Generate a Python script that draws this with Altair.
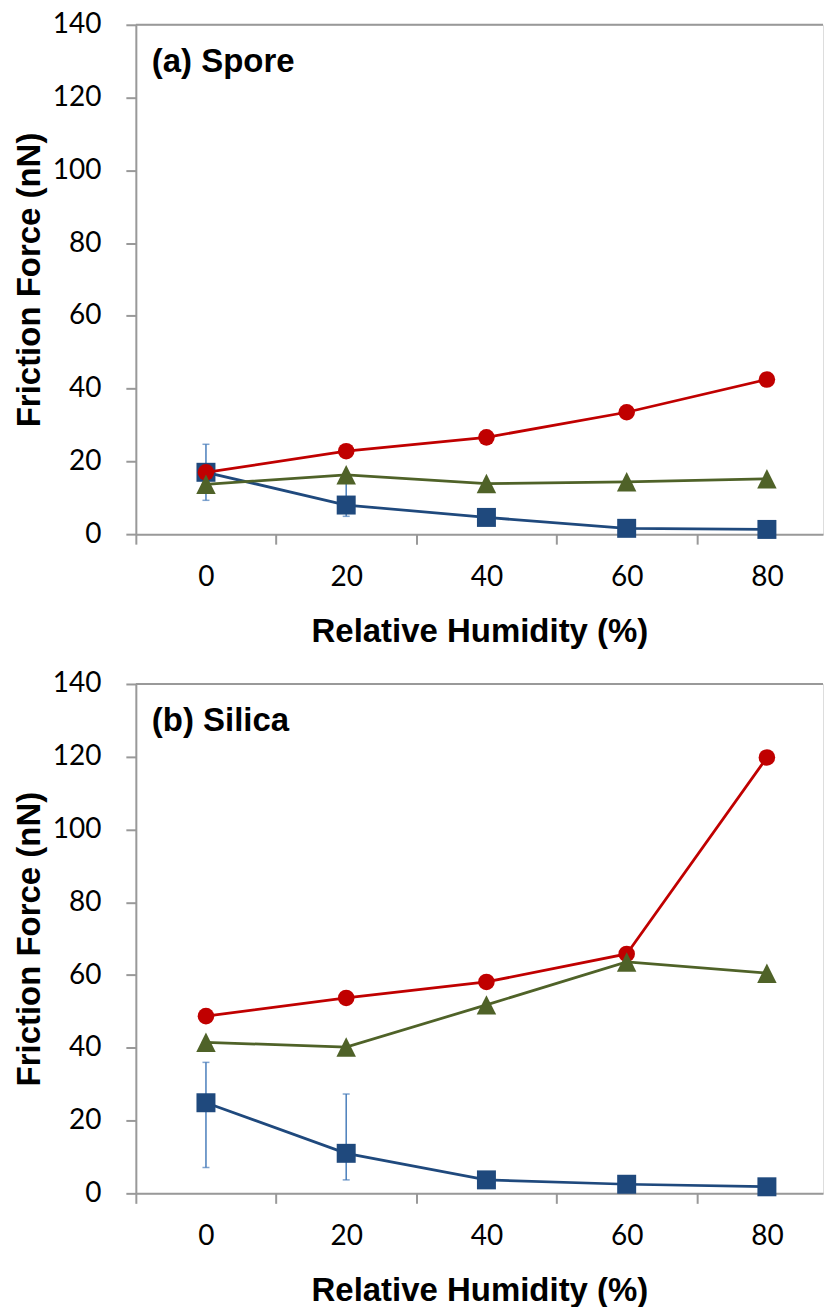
import altair as alt
import pandas as pd

# ---- data ----
HUMIDITY = [0, 20, 40, 60, 80]
X_BOUNDS = [-10, 10, 30, 50, 70]          # category boundaries (tick marks)
Y_TICKS = [0, 20, 40, 60, 80, 100, 120, 140]

SPORE_RED = [17.0, 22.8, 26.6, 33.5, 42.5]
SPORE_GREEN = [13.7, 16.3, 13.9, 14.4, 15.2]
SPORE_BLUE = [17.0, 8.0, 4.6, 1.6, 1.3]
SPORE_ERR_X = [0, 20]
SPORE_ERR_HI = [24.7, 14.5]
SPORE_ERR_LO = [9.3, 4.9]

SILICA_RED = [48.7, 53.7, 58.1, 65.8, 119.8]
SILICA_GREEN = [41.5, 40.2, 51.8, 63.6, 60.5]
SILICA_BLUE = [24.9, 11.0, 3.7, 2.5, 1.8]
SILICA_ERR_X = [0, 20]
SILICA_ERR_HI = [36.0, 27.3]
SILICA_ERR_LO = [7.1, 3.7]

RED = "#C00000"
GREEN = "#4F6228"
BLUE = "#1F497D"
ERR = "#4A7EBB"
AX = "#999999"

W = 688
H = 510
XDOM = [-10, 88]

xscale = alt.Scale(domain=XDOM, nice=False, zero=False)
yscale = alt.Scale(domain=[0, 140], nice=False)

xaxis = alt.Axis(
    values=X_BOUNDS, labelExpr="'' + (datum.value + 10)",
    labelOffset=W / (XDOM[1] - XDOM[0]) * 10,
    title="Relative Humidity (%)", grid=False,
    tickSize=10, tickColor=AX, tickWidth=2, domainColor=AX, domainWidth=2,
    labelFont="Lato", labelFontSize=28, labelColor="black", labelPadding=19,
    labelFlush=False, labelOverlap=False, labelBound=False,
    titleFont="Liberation Sans", titleFontSize=33, titleFontWeight="bold",
    titleColor="black", titlePadding=24,
)
yaxis = alt.Axis(
    values=Y_TICKS, title="Friction Force (nN)", grid=False,
    tickSize=10, tickColor=AX, tickWidth=2, domainColor=AX, domainWidth=2,
    labelFont="Lato", labelFontSize=28, labelColor="black", labelPadding=25,
    labelFlush=False, labelOverlap=False,
    titleFont="Liberation Sans", titleFontSize=33, titleFontWeight="bold",
    titleColor="black", titlePadding=6,
)

TRIANGLE = "M0,-1L1,1L-1,1Z"


def X(field):
    return alt.X(field, type="quantitative", scale=xscale, axis=xaxis)


def Y(field):
    return alt.Y(field, type="quantitative", scale=yscale, axis=yaxis)


def series(ys, color, shape, size):
    df = pd.DataFrame({"h": HUMIDITY, "f": ys})
    base = alt.Chart(df).encode(x=X("h"), y=Y("f"))
    line = base.mark_line(color=color, strokeWidth=2.75)
    pts = base.mark_point(shape=shape, filled=True, color=color, opacity=1, size=size)
    return [line, pts]


def panel(label, red, green, blue, ex, ehi, elo):
    top = alt.Chart(pd.DataFrame({"f": [Y_TICKS[-1]]})).mark_rule(
        color=AX, strokeWidth=2
    ).encode(y=Y("f"))
    edf = pd.DataFrame({"h": ex, "hi": ehi, "lo": elo})
    ebar = alt.Chart(edf).mark_rule(color=ERR, strokeWidth=1.5).encode(
        x=X("h"), y=Y("hi"), y2="lo"
    )
    cap_hi = alt.Chart(edf).mark_tick(
        color=ERR, orient="horizontal", size=7, thickness=1.5
    ).encode(x=X("h"), y=Y("hi"))
    cap_lo = alt.Chart(edf).mark_tick(
        color=ERR, orient="horizontal", size=7, thickness=1.5
    ).encode(x=X("h"), y=Y("lo"))
    txt = alt.Chart(pd.DataFrame({"t": [label]})).mark_text(
        align="left", baseline="alphabetic", font="Liberation Sans",
        fontSize=33, fontWeight="bold", color="black"
    ).encode(text="t:N", x=alt.value(16), y=alt.value(47))
    layers = [top, ebar, cap_hi, cap_lo]
    layers += series(blue, BLUE, "square", 361)
    layers += series(red, RED, "circle", 275)
    layers += series(green, GREEN, TRIANGLE, 380)
    layers += [txt]
    return alt.layer(*layers).properties(width=W, height=H)


a = panel("(a) Spore", SPORE_RED, SPORE_GREEN, SPORE_BLUE,
          SPORE_ERR_X, SPORE_ERR_HI, SPORE_ERR_LO)
b = panel("(b) Silica", SILICA_RED, SILICA_GREEN, SILICA_BLUE,
          SILICA_ERR_X, SILICA_ERR_HI, SILICA_ERR_LO)

chart = alt.vconcat(a, b, spacing=150, bounds="flush").properties(
    padding={"left": 4, "top": 1, "right": 0, "bottom": 0}
).configure_view(stroke=None).configure(background="white")

chart.save("out.html", embed_options={"renderer": "svg", "actions": False})
